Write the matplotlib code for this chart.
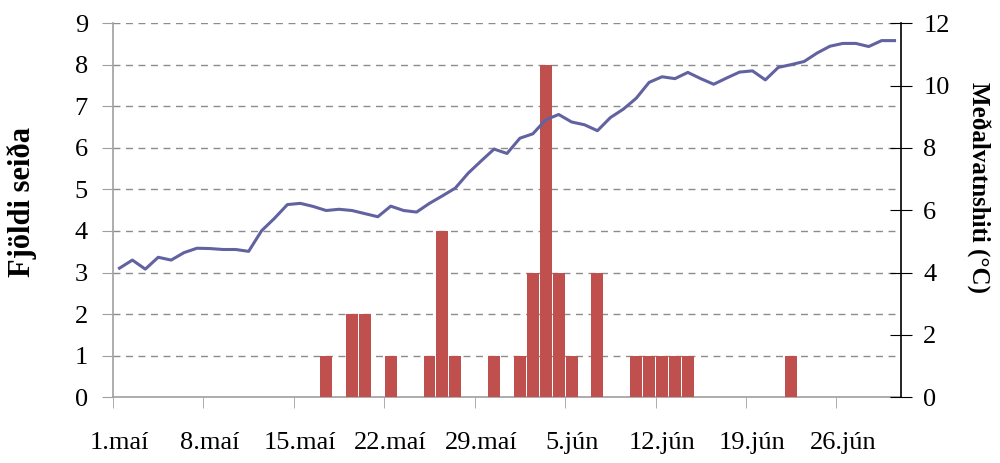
import numpy as np
import matplotlib.pyplot as plt
from matplotlib.ticker import FixedLocator

plt.rcParams['font.family'] = ['Liberation Serif', 'DejaVu Serif']

# Day index 0 = 1.maí ... 60 = 30.jún
tick_labels = ["1.maí", "8.maí", "15.maí", "22.maí", "29.maí",
               "5.jún", "12.jún", "19.jún", "26.jún"]
tick_days = [0, 7, 14, 21, 28, 35, 42, 49, 56]

# Number of fry per day (left axis)
fry_days = [16, 18, 19, 21, 24, 25, 26, 29, 31, 32, 33, 34, 35, 37,
            40, 41, 42, 43, 44, 52]
fry_count = [1, 2, 2, 1, 1, 4, 1, 1, 1, 3, 8, 3, 1, 3,
             1, 1, 1, 1, 1, 1]

# Mean water temperature (right axis), one value per day
temp = [4.14, 4.40, 4.11, 4.49, 4.40, 4.64, 4.78, 4.77, 4.74, 4.74,
        4.68, 5.34, 5.74, 6.18, 6.22, 6.12, 5.99, 6.03, 5.99, 5.89,
        5.79, 6.13, 5.99, 5.94, 6.22, 6.46, 6.71, 7.19, 7.58, 7.96,
        7.82, 8.31, 8.45, 8.90, 9.07, 8.83, 8.74, 8.55, 8.97, 9.24,
        9.59, 10.10, 10.28, 10.22, 10.42, 10.22, 10.04, 10.24, 10.43, 10.47,
        10.18, 10.58, 10.67, 10.77, 11.04, 11.26, 11.35, 11.35, 11.25, 11.44,
        11.44]
days = np.arange(len(temp))

fig = plt.figure(figsize=(10, 4.63), dpi=100)
ax = fig.add_axes([0.113, 0.142, 0.788, 0.808])

ax.bar(fry_days, fry_count, width=0.92, color='#C0504D', zorder=3)
ax.set_xlim(-0.5, 60.5)
ax.set_ylim(0, 9)
ax.set_yticks(range(0, 10))
ax.yaxis.grid(True, linestyle=(0, (5, 4)), color='#8C8C8C', linewidth=1.0)
ax.set_axisbelow(True)

ax.xaxis.set_major_locator(FixedLocator(tick_days))
ax.set_xticklabels(tick_labels)
ax.xaxis.set_minor_locator(FixedLocator([d - 0.5 for d in tick_days]))
ax.tick_params(axis='x', which='major', length=0, pad=25, labelsize=19)
ax.tick_params(axis='x', which='minor', length=8, color='#A0A0A0', direction='out')
ax.tick_params(axis='y', length=8, color='#A0A0A0', pad=10, labelsize=19)

for s in ['top', 'right']:
    ax.spines[s].set_visible(False)
ax.spines['left'].set_color('#A0A0A0')
ax.spines['bottom'].set_color('#A0A0A0')
ax.spines['left'].set_linewidth(1.2)
ax.spines['bottom'].set_linewidth(1.2)

ax.set_ylabel('Fjöldi seiða', fontsize=22, fontweight='bold', va='center')
ax.yaxis.set_label_coords(-0.1155, 0.522)

ax2 = ax.twinx()
ax2.plot(days, temp, color='#6262A0', linewidth=2.2, zorder=4)
ax2.set_ylim(0, 12)
ax2.set_yticks(range(0, 13, 2))
ax2.tick_params(axis='y', length=16, direction='inout', color='black', pad=8, labelsize=19)
for s in ['top', 'left', 'bottom']:
    ax2.spines[s].set_visible(False)
ax2.spines['right'].set_color('black')
ax2.spines['right'].set_linewidth(1.2)
ax2.set_ylabel('Meðalvatnshiti (°C)', fontsize=18, fontweight='bold',
               rotation=270, va='center')
ax2.yaxis.set_label_coords(1.0977, 0.56)

fig.savefig('out.png', dpi=100)
